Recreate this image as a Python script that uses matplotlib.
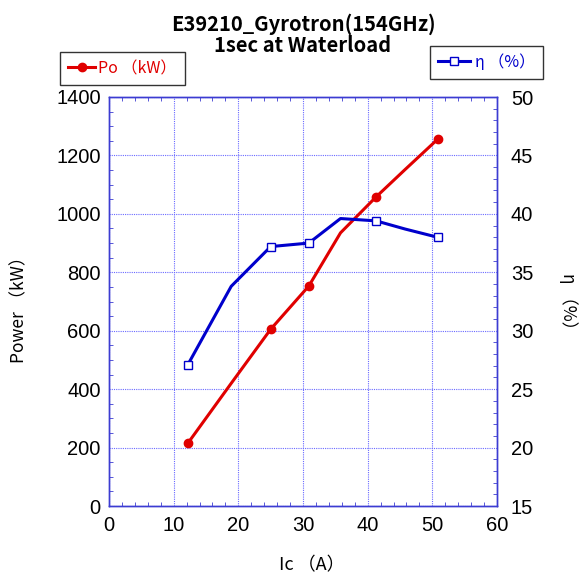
import numpy as np
import matplotlib
matplotlib.use("Agg")
import matplotlib.pyplot as plt
from matplotlib.ticker import MultipleLocator

plt.rcParams['font.family'] = ['Liberation Sans', 'DejaVu Sans']
jp = ['Noto Sans CJK JP', 'DejaVu Sans']

# dados
ic = [12.2, 18.9, 25.0, 30.9, 35.8, 41.3, 45.8, 50.8]
potencia = [215, 420, 605, 753, 935, 1058, 1152, 1255]   # Po (kW)
eficiencia = [27.1, 33.8, 37.2, 37.5, 39.6, 39.4, 38.7, 38.0]  # eta (%)
medidos = [0, 2, 3, 5, 7]  # pontos com marcador

titulo = "E39210_Gyrotron(154GHz)\n1sec at Waterload"

vermelho = '#e00000'
azul = '#0000cc'
azul_eixo = '#3c3cd2'

fig = plt.figure(figsize=(5.81, 5.76), dpi=100)
ax = fig.add_axes([109/581, 1 - 506/576, 388/581, 409/576])
ax2 = ax.twinx()

l1, = ax.plot(ic, potencia, color=vermelho, lw=2.2, marker='o', ms=6,
              markevery=medidos, zorder=3)
l2, = ax2.plot(ic, eficiencia, color=azul, lw=2.2, marker='s', ms=6,
               mfc='white', mec=azul, mew=1.0, markevery=medidos, zorder=3)

ax.set_xlim(0, 60)
ax.set_ylim(0, 1400)
ax2.set_ylim(15, 50)

ax.xaxis.set_major_locator(MultipleLocator(10))
ax.xaxis.set_minor_locator(MultipleLocator(2))
ax.yaxis.set_major_locator(MultipleLocator(200))
ax.yaxis.set_minor_locator(MultipleLocator(50))
ax2.yaxis.set_major_locator(MultipleLocator(5))
ax2.yaxis.set_minor_locator(MultipleLocator(1))

ax.grid(True, which='major', color='#6a6aff', ls=(0, (1, 1)), lw=0.8)
ax.set_axisbelow(True)

ax.tick_params(which='major', length=0, labelsize=14.5, pad=6)
ax.tick_params(axis='x', which='major', pad=7)
ax.tick_params(which='minor', direction='in', length=3, color=azul_eixo,
               top=True, bottom=True, left=True, right=False)
ax2.tick_params(which='major', length=0, labelsize=14.5, pad=10)
ax2.tick_params(which='minor', direction='in', length=3, color=azul_eixo)

for a in (ax, ax2):
    for s in a.spines.values():
        s.set_color(azul_eixo)
        s.set_linewidth(1.0)

ax.set_xlabel("Ic （A）", family=jp, fontsize=13)
ax.xaxis.set_label_coords((312 - 109)/388, -(556 - 506)/409)
ax.set_ylabel("Power （kW）", family=jp, fontsize=12.5)
ax.yaxis.set_label_coords(-(109 - 28)/388, 0.49)
ax2.set_ylabel("η （%）", family=jp, fontsize=12.5, rotation=-90, va='center')
ax2.yaxis.set_label_coords(1 + (568 - 497)/388, 0.49)

fig.text(303/581, 1 - 35/576, titulo, family=jp, fontsize=14.5, ha='center',
         va='center', linespacing=1.0, weight='bold')

leg1 = fig.legend(handles=[l1], labels=["Po （kW）"], loc='upper left',
                  bbox_to_anchor=(60/581, 1 - 52/576), prop={'family': jp, 'size': 11.5},
                  fancybox=False, framealpha=1, edgecolor='#333333', borderaxespad=0,
                  handlelength=1.7, borderpad=0.5, handletextpad=0.2)
leg1.get_texts()[0].set_color(vermelho)
leg1.get_frame().set_linewidth(1.0)
leg2 = fig.legend(handles=[l2], labels=["η （%）"], loc='upper right',
                  bbox_to_anchor=(543/581, 1 - 46/576), prop={'family': jp, 'size': 11.5},
                  fancybox=False, framealpha=1, edgecolor='#333333', borderaxespad=0,
                  handlelength=2.0, borderpad=0.5, handletextpad=0.3)
leg2.get_texts()[0].set_color(azul)
leg2.get_frame().set_linewidth(1.0)

fig.savefig('out.png', dpi=100)
